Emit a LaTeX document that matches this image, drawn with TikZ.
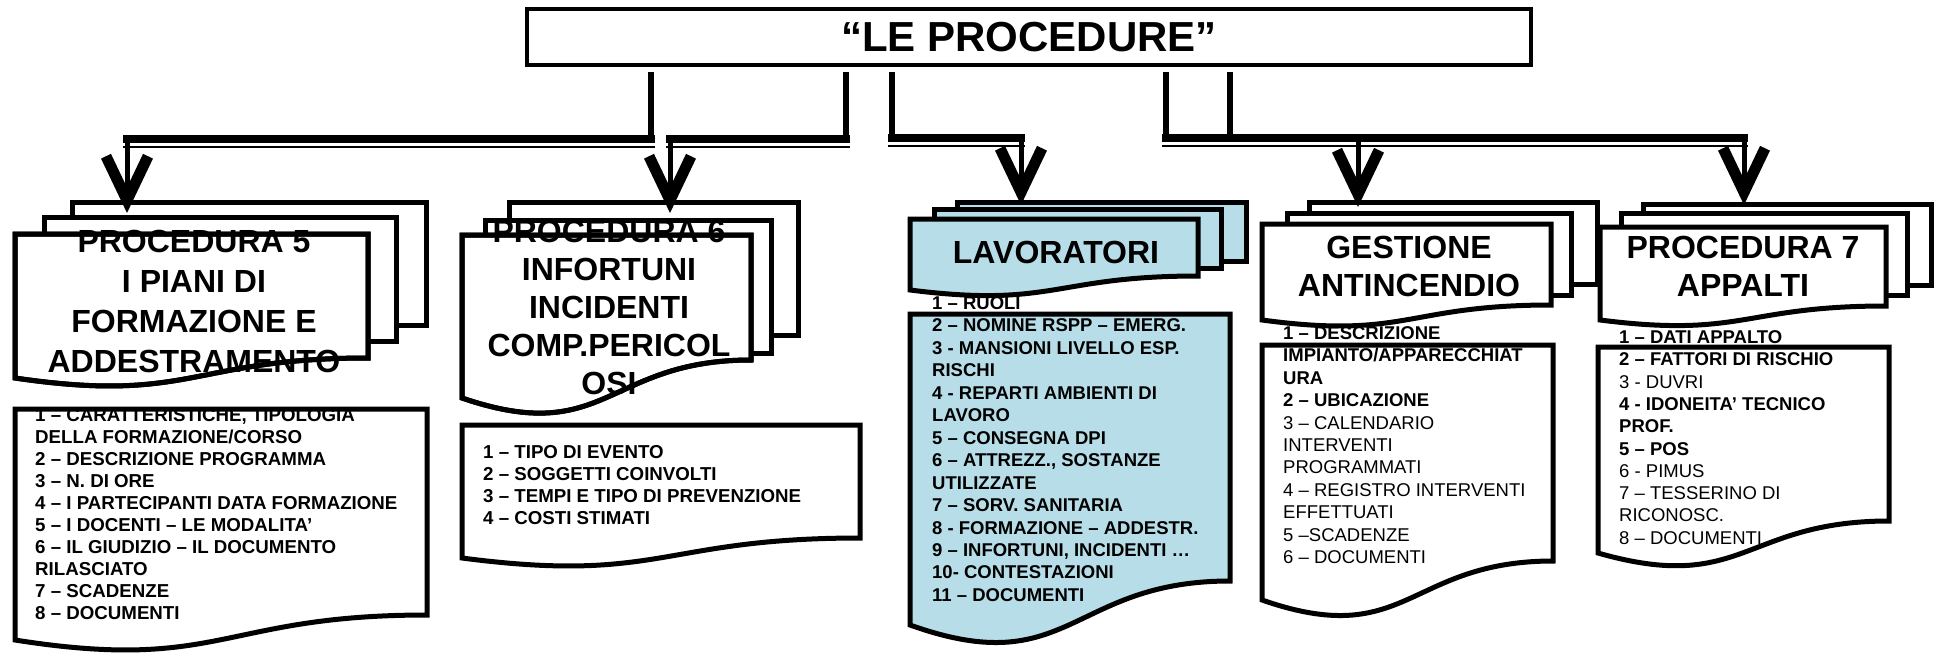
\documentclass[tikz,border=0pt]{standalone}
\usepackage{fontspec}
\setmainfont{Liberation Sans}
\usetikzlibrary{arrows.meta,calc}
\definecolor{lav}{HTML}{B7DEE8}
\newcommand{\docshape}[6]{\path[#1] (#2,#4) -- (#3,#4) -- (#3,#5) .. controls ({(#2+#3)/2},#5) and ({(#2+#3)/2},{#5+2.3*(#6-#5)}) .. (#2,#6) -- cycle;}
\begin{document}
\begin{tikzpicture}[x=1pt,y=-1pt,
  hdr/.style={draw=black,line width=5pt},
  hdrtext/.style={align=center,inner sep=0pt,font=\fontsize{32}{39}\selectfont\bfseries},
  listtext/.style={align=left,anchor=north west,inner sep=0pt},
  stem/.style={line width=6pt},
  bar/.style={line width=8pt,line cap=rect},
  thinln/.style={line width=2pt,shorten <=-4pt,shorten >=-4pt},
  drop/.style={line width=5pt,-{Straight Barb[length=44pt,width=42pt,line width=11pt]}}]
\useasboundingbox (0,0) rectangle (1936,665);
\fill[white] (0,0) rectangle (1936,665);

% ---------- lists ----------
% Procedura 5
\docshape{fill=white}{15}{427}{409}{615}{640}
\node[listtext,font=\fontsize{18.7}{22}\selectfont\bfseries] (l5) at (35,408.4) {1 – CARATTERISTICHE, TIPOLOGIA\\DELLA FORMAZIONE/CORSO\\2 – DESCRIZIONE PROGRAMMA\\3 – N. DI ORE\\4 – I PARTECIPANTI DATA FORMAZIONE\\5 – I DOCENTI – LE MODALITA’\\6 – IL GIUDIZIO – IL DOCUMENTO\\RILASCIATO\\7 – SCADENZE\\8 – DOCUMENTI};
\docshape{hdr}{15}{427}{409}{615}{640}

% Procedura 6
\docshape{fill=white}{462}{860}{425}{538}{558}
\node[listtext,font=\fontsize{18.7}{22}\selectfont\bfseries] (l6) at (483,445.4) {1 – TIPO DI EVENTO\\2 – SOGGETTI COINVOLTI\\3 – TEMPI E TIPO DI PREVENZIONE\\4 – COSTI STIMATI};
\docshape{hdr}{462}{860}{425}{538}{558}

% Lavoratori
\docshape{fill=lav}{910}{1230}{314}{581}{625}
\node[listtext,font=\fontsize{18.5}{22.45}\selectfont\bfseries] (lL) at (932,296.4) {1 – RUOLI\\2 – NOMINE RSPP – EMERG.\\3 - MANSIONI LIVELLO ESP.\\RISCHI\\4 - REPARTI AMBIENTI DI\\LAVORO\\5 – CONSEGNA DPI\\6 – ATTREZZ., SOSTANZE\\UTILIZZATE\\7 – SORV. SANITARIA\\8 - FORMAZIONE – ADDESTR.\\9 – INFORTUNI, INCIDENTI …\\10- CONTESTAZIONI\\11 – DOCUMENTI};
\docshape{hdr}{910}{1230}{314}{581}{625}

% Gestione antincendio
\docshape{fill=white}{1262}{1553}{345}{561}{600}
\node[listtext,font=\fontsize{18.5}{22.4}\selectfont] (lG) at (1283,326.4) {\textbf{1 – DESCRIZIONE}\\\textbf{IMPIANTO/APPARECCHIAT}\\\textbf{URA}\\\textbf{2 – UBICAZIONE}\\3 – CALENDARIO\\INTERVENTI\\PROGRAMMATI\\4 – REGISTRO INTERVENTI\\EFFETTUATI\\5 –SCADENZE\\6 – DOCUMENTI};
\docshape{hdr}{1262}{1553}{345}{561}{600}

% Procedura 7
\docshape{fill=white}{1598}{1889}{347}{521}{553}
\node[listtext,font=\fontsize{18.5}{22.3}\selectfont] (l7) at (1619,330.4) {\textbf{1 – DATI APPALTO}\\\textbf{2 – FATTORI DI RISCHIO}\\3 - DUVRI\\\textbf{4 - IDONEITA’ TECNICO}\\\textbf{PROF.}\\\textbf{5 – POS}\\6 - PIMUS\\7 – TESSERINO DI\\RICONOSC.\\8 – DOCUMENTI};
\docshape{hdr}{1598}{1889}{347}{521}{553}

% ---------- headers ----------
% Procedura 5
\draw[hdr,fill=white] (72,202) rectangle (426,325);
\draw[hdr,fill=white] (44,217) rectangle (396,341);
\docshape{hdr,fill=white}{15}{368}{234}{358}{378}
\node[hdrtext,font=\fontsize{32}{40}\selectfont\bfseries] (h5) at (194,301) {PROCEDURA 5\\I PIANI DI\\FORMAZIONE E\\ADDESTRAMENTO};
\docshape{hdr}{15}{368}{234}{358}{378}
\draw[hdr] (44,234) -- (44,217) -- (396,217);

% Procedura 6
\draw[hdr,fill=white] (509,202) rectangle (798,335);
\draw[hdr,fill=white] (485,220) rectangle (771,353);
\docshape{hdr,fill=white}{462}{751}{235}{360}{398}
\node[hdrtext,font=\fontsize{32}{38}\selectfont\bfseries] (h6) at (609,307) {PROCEDURA 6\\INFORTUNI\\INCIDENTI\\COMP.PERICOL\\OSI};
\docshape{hdr}{462}{751}{235}{360}{398}
\draw[hdr] (485,235) -- (485,220) -- (771,220);

% Lavoratori
\draw[hdr,fill=lav] (957,202) rectangle (1246,261);
\draw[hdr,fill=lav] (934,209) rectangle (1221,268);
\docshape{hdr,fill=lav}{910}{1198}{219}{276}{290}
\node[hdrtext] (hL) at (1056,252) {LAVORATORI};

% Gestione antincendio
\draw[hdr,fill=white] (1309,202) rectangle (1597,284);
\draw[hdr,fill=white] (1287,213) rectangle (1571,295);
\docshape{hdr,fill=white}{1262}{1551}{224}{305}{320}
\node[hdrtext,font=\fontsize{32}{38}\selectfont\bfseries] (hG) at (1409,266) {GESTIONE\\ANTINCENDIO};

% Procedura 7
\draw[hdr,fill=white] (1643,204) rectangle (1931,285);
\draw[hdr,fill=white] (1621,213) rectangle (1907,295);
\docshape{hdr,fill=white}{1600}{1886}{227}{306}{320}
\node[hdrtext,font=\fontsize{32}{38}\selectfont\bfseries] (h7) at (1743,266) {PROCEDURA 7\\APPALTI};

% ---------- title ----------
\node[draw,line width=4.5pt,minimum width=1004pt,minimum height=56pt,inner sep=0pt,
      font=\fontsize{42}{50}\selectfont\bfseries] (top) at (1029,37) {“LE PROCEDURE”};

% ---------- connectors ----------
\coordinate (a0) at (651,72);  \coordinate (a1) at (651,139);
\coordinate (a2) at (127,139); \coordinate (a3) at (127,213);
\coordinate (b0) at (846,72);  \coordinate (b1) at (846,139);
\coordinate (b2) at (670,139); \coordinate (b3) at (670,213);
\coordinate (c0) at (892,72);  \coordinate (c1) at (892,138);
\coordinate (c2) at (1021,138); \coordinate (c3) at (1021,205);
\coordinate (d0) at (1166,72); \coordinate (d1) at (1166,138);
\coordinate (e0) at (1230,72); \coordinate (e1) at (1230,138);
\coordinate (d2) at (1358,138); \coordinate (d3) at (1358,207);
\coordinate (d4) at (1744,138); \coordinate (d5) at (1744,205);

\draw[stem] (a0) -- (a1);
\draw[bar] (a1) -- (a2);
\draw[thinln] ($(a1)+(0,7.5)$) -- ($(a2)+(0,7.5)$);
\draw[drop] (a2) -- (a3);

\draw[stem] (b0) -- (b1);
\draw[bar] (b1) -- (b2);
\draw[thinln] ($(b1)+(0,7.5)$) -- ($(b2)+(0,7.5)$);
\draw[drop] (b2) -- (b3);

\draw[stem] (c0) -- (c1);
\draw[bar] (c1) -- (c2);
\draw[thinln] ($(c1)+(0,7.5)$) -- ($(c2)+(0,7.5)$);
\draw[drop] (c2) -- (c3);

\draw[stem] (d0) -- (d1);
\draw[stem] (e0) -- (e1);
\draw[bar] (d1) -- (d4);
\draw[thinln] ($(d1)+(0,7.5)$) -- ($(d4)+(0,7.5)$);
\draw[drop] (d2) -- (d3);
\draw[drop] (d4) -- (d5);
\end{tikzpicture}
\end{document}
